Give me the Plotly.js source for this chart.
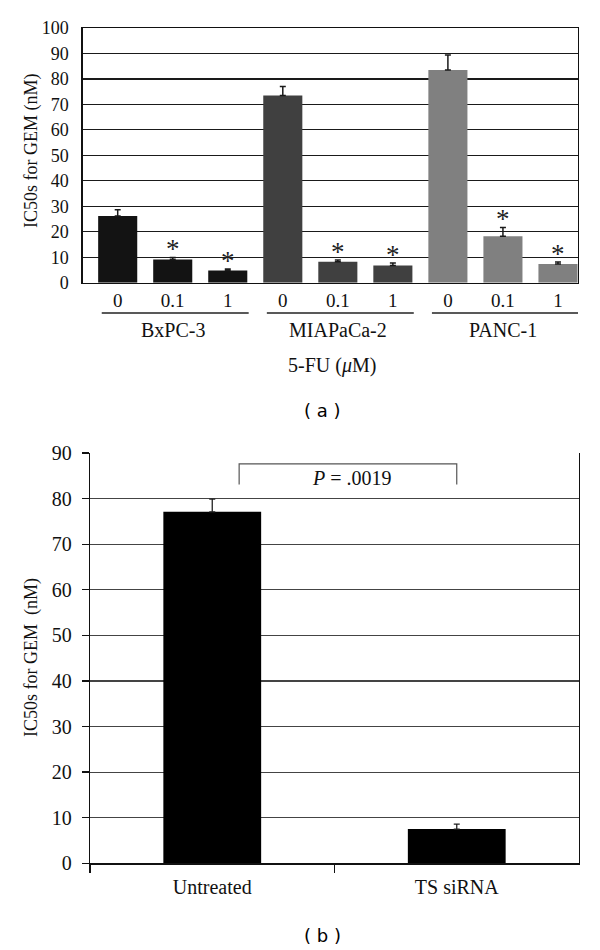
<!DOCTYPE html>
<html>
<head>
<meta charset="utf-8">
<script src="https://cdn.plot.ly/plotly-3.0.1.min.js"></script>
<style>html,body{margin:0;padding:0;background:#fff;}#chart{width:600px;height:950px;}</style>
</head>
<body>
<div id="chart"></div>
<script>
// ---------- Panel (a) data ----------
const groups = ['BxPC-3', 'MIAPaCa-2', 'PANC-1'];
const doses = ['0', '0.1', '1'];
const ic50_bxpc = [26.2, 9.1, 4.8];
const err_bxpc  = [2.4, 0.8, 0.6];
const ic50_mia  = [73.5, 8.2, 6.8];
const err_mia   = [3.5, 0.7, 0.9];
const ic50_panc = [83.5, 18.2, 7.3];
const err_panc  = [5.9, 3.5, 0.8];
const sig_bxpc = [false, true, true];
const sig_mia  = [false, true, true];
const sig_panc = [false, true, true];
const aYTicks = [0, 10, 20, 30, 40, 50, 60, 70, 80, 90, 100];

// ---------- Panel (b) data ----------
const bCategories = ['Untreated', 'TS siRNA'];
const bValues = [77.1, 7.5];
const bErrors = [2.8, 1.1];
const bYTicks = [0, 10, 20, 30, 40, 50, 60, 70, 80, 90];
const pLabel = '<i>P</i> = .0019';

const serif = 'Liberation Serif, Times New Roman, serif';
const txt = '#111';
const groupColors = ['#131313', '#404040', '#808080'];
const allVals = [ic50_bxpc, ic50_mia, ic50_panc];
const allErrs = [err_bxpc, err_mia, err_panc];
const allSig = [sig_bxpc, sig_mia, sig_panc];

const traces = [];
const annotations = [];
const shapes = [];

function note(o) {
  annotations.push(Object.assign({showarrow: false, xanchor: 'center', yanchor: 'middle'}, o));
}

groups.forEach((g, gi) => {
  const xs = doses.map((d, j) => gi * doses.length + j);
  traces.push({
    type: 'bar', x: xs, y: allVals[gi], width: 0.71,
    marker: {color: groupColors[gi], line: {width: 0}},
    error_y: {type: 'data', symmetric: false, array: allErrs[gi],
              arrayminus: allErrs[gi].map(() => 0), color: '#1a1a1a', thickness: 1.5, width: 3},
    xaxis: 'x', yaxis: 'y', hoverinfo: 'skip'
  });
  // asterisks
  allSig[gi].forEach((s, j) => {
    if (s) note({
      xref: 'x', yref: 'y', x: xs[j], y: allVals[gi][j] + allErrs[gi][j],
      text: '*', yanchor: 'bottom', yshift: -9,
      font: {family: serif, size: 27, color: '#222'}
    });
  });
  // group underline
  shapes.push({type: 'line', xref: 'x', yref: 'paper',
    x0: xs[0] - 0.29, x1: xs[xs.length - 1] + 0.38,
    y0: 1 - 313 / 950, y1: 1 - 313 / 950,
    line: {color: '#222', width: 1.3}});
  // group label
  note({xref: 'x', yref: 'paper', x: xs[1], y: 1 - 330 / 950,
    text: g, font: {family: serif, size: 20, color: txt}});
});

// panel (b) bars
traces.push({
  type: 'bar', x: bCategories, y: bValues,
  marker: {color: '#000', line: {width: 0}},
  error_y: {type: 'data', symmetric: false, array: bErrors,
            arrayminus: bErrors.map(() => 0), color: '#222', thickness: 1.3, width: 3},
  xaxis: 'x2', yaxis: 'y2', hoverinfo: 'skip'
});

// bracket for P value
shapes.push({type: 'path', xref: 'x2', yref: 'y2',
  path: 'M 0.11 83.1 L 0.11 87.6 L 1.0 87.6 L 1.0 83.1',
  line: {color: '#555', width: 1.2}});
note({xref: 'x2', yref: 'y2', x: 0.57, y: 84.6, text: pLabel,
  font: {family: serif, size: 20, color: txt}});

// axis titles (as annotations for exact placement)
note({xref: 'paper', yref: 'paper', x: 32 / 600, y: 1 - 151 / 950,
  text: 'IC50s for GEM (nM)', textangle: -90,
  font: {family: serif, size: 18, color: txt}});
note({xref: 'paper', yref: 'paper', x: 31 / 600, y: 1 - 658 / 950,
  text: 'IC50s for GEM \u00a0(nM)', textangle: -90,
  font: {family: serif, size: 18, color: txt}});
note({xref: 'paper', yref: 'paper', x: 332 / 600, y: 1 - 365 / 950,
  text: '5-FU (<i>\u03bc</i>M)', font: {family: serif, size: 20, color: txt}});
note({xref: 'paper', yref: 'paper', x: 322.5 / 600, y: 1 - 410 / 950,
  text: '( a )', font: {family: 'DejaVu Sans, sans-serif', size: 18, color: '#000'}});
note({xref: 'paper', yref: 'paper', x: 322.5 / 600, y: 1 - 935 / 950,
  text: '( b )', font: {family: 'DejaVu Sans, sans-serif', size: 18, color: '#000'}});

const layout = {
  width: 600, height: 950,
  margin: {l: 0, r: 0, t: 0, b: 0, pad: 0},
  paper_bgcolor: '#fff', plot_bgcolor: '#fff',
  showlegend: false, barmode: 'group',
  font: {family: serif, color: txt},
  xaxis: {
    domain: [82.7 / 600, 578 / 600], anchor: 'y',
    range: [-0.636, 8.364], tickmode: 'array',
    tickvals: [0, 1, 2, 3, 4, 5, 6, 7, 8],
    ticktext: groups.flatMap(() => doses),
    showgrid: false, zeroline: false, ticks: '',
    showline: true, mirror: true, linecolor: '#111', linewidth: 1.3,
    ticklabelstandoff: 0,
    tickfont: {family: serif, size: 19, color: txt}, automargin: false, fixedrange: true
  },
  yaxis: {
    domain: [1 - 282.7 / 950, 1 - 28 / 950], anchor: 'x',
    range: [0, 100], tickmode: 'array', tickvals: aYTicks,
    showgrid: true, gridcolor: '#1a1a1a', gridwidth: 1.2,
    zeroline: false, ticks: '',
    showline: true, mirror: true, linecolor: '#111', linewidth: 1.3,
    ticklabelstandoff: 9,
    tickfont: {family: serif, size: 18, color: txt}, automargin: false, fixedrange: true
  },
  xaxis2: {
    domain: [90 / 600, 579 / 600], anchor: 'y2',
    type: 'category', categoryorder: 'array', categoryarray: bCategories,
    range: [-0.5, 1.5], showgrid: false, zeroline: false,
    ticks: 'outside', tickson: 'boundaries', ticklen: 8, tickcolor: '#111', tickwidth: 1.3,
    showline: true, linecolor: '#111', linewidth: 1.3,
    ticklabelstandoff: 5,
    tickfont: {family: serif, size: 20, color: txt}, automargin: false, fixedrange: true
  },
  yaxis2: {
    domain: [1 - 863.3 / 950, 1 - 453 / 950], anchor: 'x2',
    range: [0, 90], tickmode: 'array', tickvals: bYTicks,
    showgrid: true, gridcolor: '#444', gridwidth: 1.2,
    zeroline: false, ticks: 'outside', ticklen: 7, tickcolor: '#111', tickwidth: 1.3,
    showline: true, mirror: true, linecolor: '#111', linewidth: 1.3,
    ticklabelstandoff: 6,
    tickfont: {family: serif, size: 20, color: txt}, automargin: false, fixedrange: true
  },
  bargap: 0.6,
  annotations: annotations,
  shapes: shapes
};

Plotly.newPlot('chart', traces, layout, {staticPlot: true, displayModeBar: false});
</script>
</body>
</html>
